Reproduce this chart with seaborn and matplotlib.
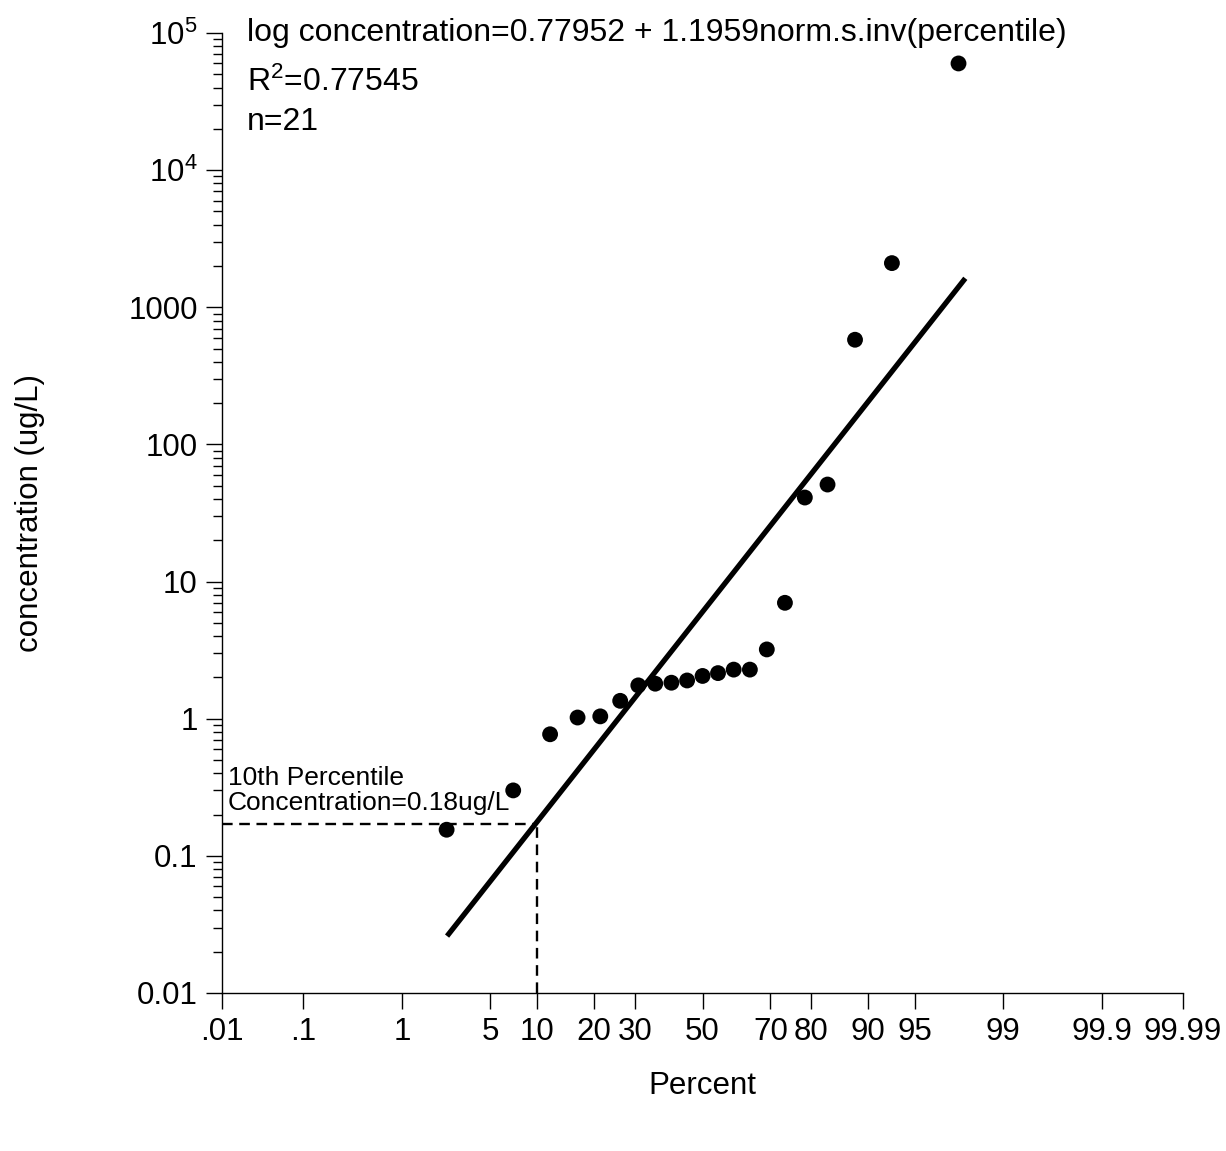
import numpy as np
import matplotlib
matplotlib.use("Agg")
import matplotlib.pyplot as plt
import matplotlib.ticker as mticker
import matplotlib.transforms as mtransforms
import seaborn as sns
from statistics import NormalDist

# Data: plotting positions (percent) and measured concentrations (ug/L)
percent = [2.38, 7.14, 11.90, 16.67, 21.43, 26.19, 30.95, 35.71, 40.48, 45.24, 50.00,
           54.76, 59.52, 64.29, 69.05, 73.81, 78.57, 83.33, 88.10, 92.86, 97.62]
concentration = [0.155, 0.30, 0.77, 1.02, 1.04, 1.35, 1.75, 1.80, 1.83, 1.90, 2.05,
                 2.15, 2.28, 2.28, 3.2, 7.0, 41, 51, 580, 2100, 60000]

# Fitted line end points (percent) and fit coefficients
fit_percent = [2.4, 97.9]
intercept = 0.77952
slope = 1.1959

# 10th percentile marker
p10_percent = 10
p10_conc = 0.17

x_ticks = [0.01, 0.1, 1, 5, 10, 20, 30, 50, 70, 80, 90, 95, 99, 99.9, 99.99]
x_labels = [".01", ".1", "1", "5", "10", "20", "30", "50", "70", "80", "90", "95",
            "99", "99.9", "99.99"]
y_ticks = [0.01, 0.1, 1, 10, 100, 1000, 1e4, 1e5]
y_labels = ["0.01", "0.1", "1", "10", "100", "1000", "$10^4$", "$10^5$"]

nd = NormalDist()
fit_conc = [10 ** (intercept + slope * nd.inv_cdf(p / 100)) for p in fit_percent]

_ppf = np.vectorize(lambda v: nd.inv_cdf(v / 100), otypes=[float])
_cdf = np.vectorize(lambda v: nd.cdf(v) * 100, otypes=[float])


def prob_fwd(p):
    p = np.clip(np.asarray(p, dtype=float), 1e-7, 100 - 1e-7)
    return _ppf(p)


def prob_inv(z):
    return _cdf(np.asarray(z, dtype=float))


sns.set_style("ticks")
plt.rcParams["font.family"] = ["Liberation Sans", "DejaVu Sans"]
plt.rcParams["mathtext.fontset"] = "custom"
plt.rcParams["mathtext.rm"] = "Liberation Sans"
plt.rcParams["mathtext.it"] = "Liberation Sans:italic"
plt.rcParams["text.color"] = "black"
plt.rcParams["axes.labelcolor"] = "black"
plt.rcParams["xtick.color"] = "black"
plt.rcParams["ytick.color"] = "black"

fig = plt.figure(figsize=(12.26, 11.51), dpi=100)
ax = fig.add_axes([0.1811, 0.1373, 0.7839, 0.834])

# Fitted line
sns.lineplot(x=fit_percent, y=fit_conc, ax=ax, color="black", linewidth=3.8,
             solid_capstyle="butt")
# Data points
sns.scatterplot(x=percent, y=concentration, ax=ax, color="black", s=130,
                edgecolor="none", zorder=3)

ax.set_xscale("function", functions=(prob_fwd, prob_inv))
ax.set_yscale("log")
ax.set_xlim(0.01, 99.99)
ax.set_ylim(0.01, 1e5)

# 10th percentile dashed guides
ax.plot([0.01, p10_percent], [p10_conc, p10_conc], color="black", lw=1.7,
        dashes=(4.5, 2.8))
ax.plot([p10_percent, p10_percent], [0.01, p10_conc], color="black", lw=1.7,
        dashes=(4.5, 2.8))

trans = mtransforms.blended_transform_factory(ax.transAxes, ax.transData)
ax.text(0.006, 0.2, "10th Percentile\nConcentration=0.18ug/L", transform=trans,
        fontsize=19, ha="left", va="bottom", linespacing=1.05)

ax.text(0.026, 1.0, "log concentration=0.77952 + 1.1959norm.s.inv(percentile)",
        transform=ax.transAxes, fontsize=23, ha="left", va="center")
ax.text(0.026, 0.949, "R$^2$=0.77545", transform=ax.transAxes, fontsize=23,
        ha="left", va="center")
ax.text(0.026, 0.907, "n=21", transform=ax.transAxes, fontsize=23,
        ha="left", va="center")

ax.xaxis.set_major_locator(mticker.FixedLocator(x_ticks))
ax.xaxis.set_major_formatter(mticker.FixedFormatter(x_labels))
ax.xaxis.set_minor_locator(mticker.NullLocator())
ax.yaxis.set_major_locator(mticker.FixedLocator(y_ticks))
ax.yaxis.set_major_formatter(mticker.FixedFormatter(y_labels))
ax.yaxis.set_minor_locator(mticker.LogLocator(base=10, subs=np.arange(2, 10)))
ax.yaxis.set_minor_formatter(mticker.NullFormatter())

ax.tick_params(axis="both", which="major", length=11.5, width=1, labelsize=22.5,
               pad=6, direction="out", color="black")
ax.tick_params(axis="y", which="minor", length=6.5, width=1, direction="out",
               color="black")

for side in ["top", "right"]:
    ax.spines[side].set_visible(False)
for side in ["left", "bottom"]:
    ax.spines[side].set_linewidth(1)
    ax.spines[side].set_color("black")

ax.set_xlabel("Percent", fontsize=22.5, labelpad=17)
ax.set_ylabel("concentration (ug/L)", fontsize=22.5, labelpad=60)

fig.savefig("out.png", dpi=100)
